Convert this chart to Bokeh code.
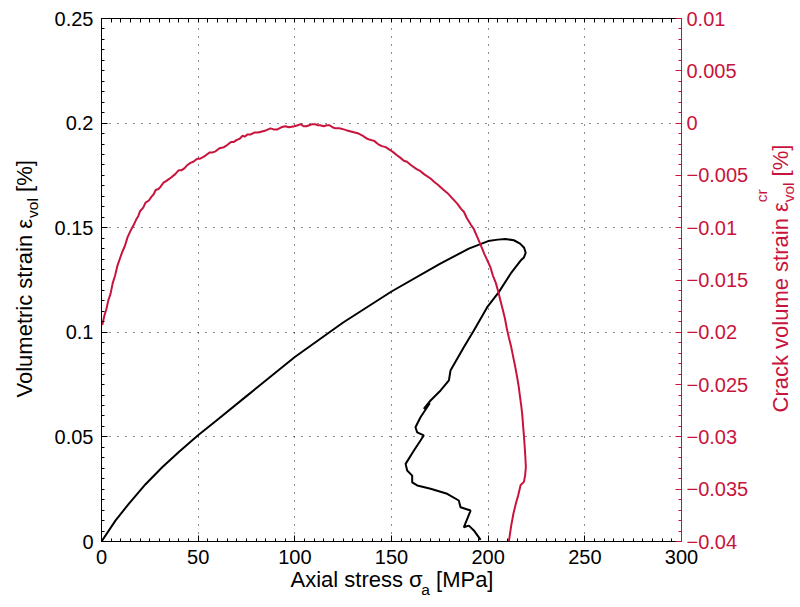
import math
from bokeh.plotting import figure
from bokeh.models import Range1d, LinearAxis, FixedTicker, CustomJSTickFormatter, Label
from bokeh.embed import file_html
from bokeh.resources import INLINE

# ---------------- data ----------------
stress_vol = [0, 7.2, 14.1, 22.8, 31.4, 40.0, 49.8, 59.0, 75.0, 100.0, 125.0, 150.0,
              175.0, 190.0, 200.0, 205.0, 209.0, 213.3, 216.5, 218.6, 219.4, 218.5, 216.8,
              211.6, 205.5, 199.5, 192.6, 187.4, 180.5, 179.7, 175.4, 170.2, 166.7,
              169.8, 165.0, 162.4, 163.3, 166.7, 161.6, 157.3, 158.1, 160.7, 160.7,
              163.3, 170.2, 178.8, 184.8, 185.7, 190.9, 187.4, 190.0, 192.6, 196.1]
strain_vol = [0, 0.0100, 0.0180, 0.0274, 0.0355, 0.0428, 0.0507, 0.0575, 0.0695, 0.0882,
              0.1047, 0.1195, 0.1327, 0.1400, 0.1436, 0.1443, 0.1446, 0.1440, 0.1424,
              0.1404, 0.1380, 0.1358, 0.1343, 0.1280, 0.1192, 0.1120, 0.1009, 0.0929,
              0.0817, 0.0770, 0.0722, 0.0674, 0.0634, 0.0661, 0.0594, 0.0546, 0.0522,
              0.0507, 0.0435, 0.0371, 0.0339, 0.0315, 0.0283, 0.0268, 0.0252, 0.0228,
              0.0196, 0.0164, 0.0148, 0.0068, 0.0076, 0.0053, 0.0008]

stress_crack = [0.4, 1.5, 2.5, 3.6, 4.7, 5.8, 7, 8.3, 9.8, 11, 12, 13.5, 15, 16.5, 18, 19,
                20, 21.5, 22.8, 24.5, 26, 27, 28, 29.5, 30.5, 32, 33, 34.5, 36, 38, 40,
                41.5, 43, 44.5, 46, 47.5, 49.5, 51, 53, 54.5, 56, 57.5, 59, 61, 63.3, 65,
                67, 68.5, 70, 71.5, 73, 74, 75.4, 77, 79, 81, 83, 85, 87.4, 89, 91, 93,
                95, 97, 99.8, 101.5, 103, 104.5, 106, 107.5, 109, 110.5, 111.6, 113, 115,
                116.5, 118, 119.5, 121, 123, 125.3, 127, 129, 131, 133, 135, 137.5, 139,
                141, 143, 145, 147, 149.5, 151, 153, 154.5, 156.4, 158, 160, 163, 165,
                167, 170.2, 172, 174, 177, 179, 181, 184, 186, 187.5, 189, 191, 192.5,
                194.4, 196, 198, 199.5, 201.2, 202.5, 204, 205.2, 206.4, 207.5, 208.7,
                209.6, 210.7, 211.8, 213, 214, 215, 215.8, 216.5, 217.1, 217.6, 218.1,
                218.5, 218.8, 219.2, 219.5, 219.1, 218.5, 216.8, 215.5, 214.3, 213.1,
                211.9, 210.7]
strain_crack = [-0.0193, -0.0184, -0.0178, -0.0169, -0.0163, -0.0153, -0.0146, -0.0136,
                -0.0128, -0.0122, -0.0118, -0.0109, -0.0103, -0.0098, -0.0092, -0.0089,
                -0.0084, -0.0081, -0.0076, -0.0074, -0.0070, -0.0068, -0.0064, -0.0063,
                -0.0061, -0.0057, -0.0056, -0.0054, -0.0052, -0.0049, -0.0045, -0.0045,
                -0.0043, -0.0040, -0.0038, -0.0037, -0.0034, -0.0034, -0.0032, -0.0030,
                -0.0028, -0.0028, -0.0027, -0.0024, -0.0023, -0.0021, -0.0018, -0.0018,
                -0.0016, -0.0015, -0.0012, -0.0013, -0.0011, -0.0011, -0.0009, -0.0009,
                -0.0008, -0.0007, -0.0005, -0.0006, -0.0006, -0.0004, -0.0003, -0.0004,
                -0.0003, -0.0002, -0.0001, -0.0003, -0.0003, -0.0002, -0.0001, -0.0001,
                -0.0002, -0.0002, -0.0003, -0.0002, -0.0002, -0.0004, -0.0005, -0.0005,
                -0.0006, -0.0007, -0.0008, -0.0009, -0.0010, -0.0012, -0.0015, -0.0016,
                -0.0017, -0.0020, -0.0022, -0.0023, -0.0026, -0.0028, -0.0031, -0.0033,
                -0.0036, -0.0037, -0.0040, -0.0044, -0.0046, -0.0049, -0.0053, -0.0056,
                -0.0059, -0.0064, -0.0067, -0.0071, -0.0077, -0.0082, -0.0085, -0.0091,
                -0.0097, -0.0101, -0.0109, -0.0116, -0.0125, -0.0131, -0.0138, -0.0146,
                -0.0153, -0.0161, -0.0170, -0.0178, -0.0187, -0.0196, -0.0205, -0.0213,
                -0.0224, -0.0233, -0.0243, -0.0252, -0.0262, -0.0270, -0.0278, -0.0290,
                -0.0299, -0.0307, -0.0318, -0.0329, -0.0337, -0.0343, -0.0346, -0.0356,
                -0.0364, -0.0373, -0.0385, -0.0400]

x_ticks = [0, 50, 100, 150, 200, 250, 300]
y_ticks = [0, 0.05, 0.1, 0.15, 0.2, 0.25]
y2_ticks = [-0.04, -0.035, -0.03, -0.025, -0.02, -0.015, -0.01, -0.005, 0, 0.005, 0.01]

# ---------------- styling ----------------
RED = "#c8143c"
FONT = "Liberation Sans"
TICK_FS = "20px"
LAB_FS = 22
SUB_FS = 15.5

X0, X1, Y0, Y1 = 0, 300, 0, 0.25
FW, FH = 580, 523
FL, FT = 101, 18          # frame left / top on the page
BIG_L, BIG_T = 800, 100   # generous borders, shifted back with negative CSS margins
BR = 800 - FL - FW
BB = 607 - FT - FH

p = figure(frame_width=FW, frame_height=FH,
           x_range=Range1d(X0, X1), y_range=Range1d(Y0, Y1),
           output_backend="svg", toolbar_location=None,
           min_border_left=BIG_L, min_border_right=BR,
           min_border_top=BIG_T, min_border_bottom=BB,
           background_fill_color="white", border_fill_color="white",
           styles={"margin-left": f"-{BIG_L - FL}px", "margin-top": f"-{BIG_T - FT}px"})
p.outline_line_color = "black"
p.outline_line_width = 1

p.extra_y_ranges = {"crack": Range1d(-0.04, 0.01)}

xt = FixedTicker(ticks=x_ticks, minor_ticks=list(range(0, 301, 5)))
yt = FixedTicker(ticks=y_ticks, minor_ticks=[round(i * 0.005, 4) for i in range(0, 51)])
y2t = FixedTicker(ticks=y2_ticks, minor_ticks=[round(-0.04 + i * 0.001, 4) for i in range(0, 51)])

fmt_code = """
var s = Math.abs(tick).toString();
return tick < 0 ? "\\u2212" + s : s;
"""


def style_axis(ax, color, ticker):
    ax.ticker = ticker
    ax.formatter = CustomJSTickFormatter(code=fmt_code)
    ax.axis_line_color = color
    ax.major_tick_line_color = color
    ax.minor_tick_line_color = color
    ax.major_tick_in = 6
    ax.major_tick_out = 0
    ax.minor_tick_in = 3
    ax.minor_tick_out = 0
    ax.major_label_text_color = color
    ax.major_label_text_font = FONT
    ax.major_label_text_font_size = TICK_FS
    ax.axis_label = None


style_axis(p.xaxis[0], "black", xt)
p.xaxis[0].major_label_standoff = 8
style_axis(p.yaxis[0], "black", yt)
p.yaxis[0].major_label_standoff = 8

right = LinearAxis(y_range_name="crack")
style_axis(right, RED, y2t)
right.major_label_standoff = 5
p.add_layout(right, "right")

# top edge: only small inward ticks, no labels
top = LinearAxis()
style_axis(top, "black", FixedTicker(ticks=[], minor_ticks=list(range(0, 301, 5))))
top.minor_tick_in = 4
p.add_layout(top, "above")

p.xgrid.ticker = FixedTicker(ticks=x_ticks)
p.ygrid.ticker = FixedTicker(ticks=y_ticks)
for g in (p.xgrid, p.ygrid):
    g.grid_line_color = "black"
    g.grid_line_dash = "1 7"
    g.grid_line_width = 1
    g.grid_line_alpha = 0.9

p.line(stress_vol, strain_vol, line_color="black", line_width=2)
p.line(stress_crack, strain_crack, y_range_name="crack", line_color=RED, line_width=2)


# ---------------- axis titles (composed text with sub/superscripts) ----------------
def to_data(px, py):
    return (X0 + (px - FL) / FW * (X1 - X0), Y0 + (FT + FH - py) / FH * (Y1 - Y0))


def lab(text, px, py, size, color="black", vertical=False):
    # (px, py): start of the baseline on the page; Bokeh draws the baseline
    # about 0.4 em lower than the anchor, so the anchor is moved up by that
    off = 0.4 * size
    if vertical:
        px -= off
    else:
        py -= off
    x, y = to_data(px, py)
    # placed in a side panel so that it is not clipped to the frame
    p.add_layout(Label(x=x, y=y, text=text, text_font=FONT, text_font_size=f"{size}px",
                       text_color=color, angle=math.pi / 2 if vertical else 0.0,
                       text_align="left", text_baseline="alphabetic"), "left")


SP = 0.278 * LAB_FS          # width of a space
W_SUBVOL = 1.278 * SUB_FS    # "vol"

# left title: Volumetric strain ε_vol [%]
ly = 397
W_Y1 = 8.164 * LAB_FS
lab("Volumetric strain \u03b5", 33, ly, LAB_FS, vertical=True)
lab("vol", 38.5, ly - W_Y1, SUB_FS, vertical=True)
lab("[%]", 33, ly - W_Y1 - W_SUBVOL - SP, LAB_FS, vertical=True)

# bottom title: Axial stress σ_a [MPa]
bx = 290
W_X1 = 5.945 * LAB_FS
lab("Axial stress \u03c3", bx, 588, LAB_FS)
lab("a", bx + W_X1, 595, SUB_FS)
lab("[MPa]", bx + W_X1 + 0.556 * SUB_FS + SP, 588, LAB_FS)

# right title: Crack volume strain ε^cr_vol [%]
ry = 412
W_R1 = 9.553 * LAB_FS
lab("Crack volume strain \u03b5", 789, ry, LAB_FS, RED, vertical=True)
lab("cr", 767, ry - W_R1, SUB_FS, RED, vertical=True)
lab("vol", 794, ry - W_R1, SUB_FS, RED, vertical=True)
lab("[%]", 789, ry - W_R1 - W_SUBVOL - SP, LAB_FS, RED, vertical=True)

open("out.html", "w").write(file_html(p, INLINE))
